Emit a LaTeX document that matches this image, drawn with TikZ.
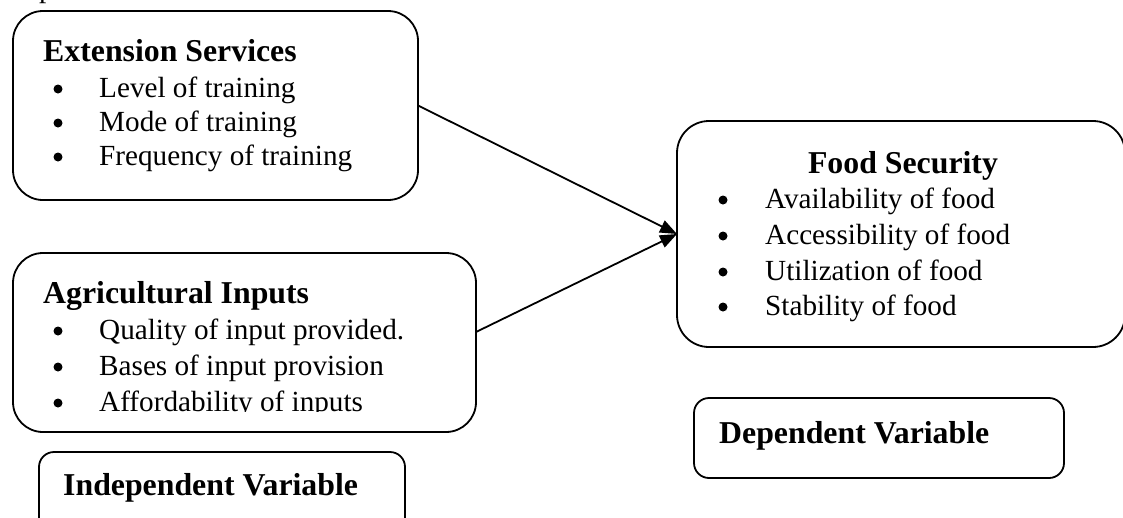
\documentclass[tikz,border=0pt]{standalone}
\usepackage{fontspec}
\setmainfont{Liberation Serif}
\usetikzlibrary{arrows.meta}
\begin{document}
\begin{tikzpicture}[x=1pt,y=-1pt,
  box/.style={draw=black, line width=1.8pt, rounded corners=30pt, inner sep=0pt, outer sep=0pt, anchor=north west},
  smallbox/.style={box, rounded corners=15pt},
  title/.style={font=\fontsize{31.8}{36}\selectfont\bfseries, inner sep=0pt, anchor=base west},
  item/.style={font=\fontsize{29.2}{34}\selectfont, inner sep=0pt, anchor=base west},
  bul/.style={circle, fill=black, draw=none, inner sep=0pt, minimum size=9pt},
  conn/.style={line width=1.8pt, -{Triangle[length=17pt,width=13pt]}}
]
\useasboundingbox (0,0) rectangle (1123,517);
\clip (0,0) rectangle (1123,517);

% fragment of text above
\node[item] (frag) at (39,-2.5) {p};

% Extension Services
\node[box, minimum width=405pt, minimum height=189pt] (ext) at (13,11) {};
\node[title] (extt) at (43,61) {Extension Services};
\node[bul] (eb1) at (58,89) {};
\node[item] (ei1) at (99,97) {Level of training};
\node[bul] (eb2) at (58,123) {};
\node[item] (ei2) at (99,131) {Mode of training};
\node[bul] (eb3) at (58,157) {};
\node[item] (ei3) at (99,165) {Frequency of training};

% Agricultural Inputs
\node[box, minimum width=463pt, minimum height=179pt] (agr) at (13,253) {};
\node[title] (agrt) at (43,303) {Agricultural Inputs};
\node[bul] (ab1) at (58,331) {};
\node[item] (ai1) at (99,339) {Quality of input provided.};
\node[bul] (ab2) at (58,367) {};
\node[item] (ai2) at (99,375) {Bases of input provision};
\begin{scope}
  \clip (0,0) rectangle (1123,411.5);
  \node[bul] (ab3) at (58,403) {};
  \node[item] (ai3) at (99,411) {Affordability of inputs};
\end{scope}

% Independent Variable
\node[smallbox, minimum width=366pt, minimum height=90pt] (ind) at (39,452) {};
\node[title] (indt) at (63,495) {Independent Variable};

% Food Security
\node[box, rounded corners=32pt, minimum width=448pt, minimum height=226pt] (food) at (677,121) {};
\node[title, anchor=base] (foodt) at (903,173) {Food Security};
\node[bul] (fb1) at (723,200) {};
\node[item] (fi1) at (765,208) {Availability of food};
\node[bul] (fb2) at (723,236) {};
\node[item] (fi2) at (765,244) {Accessibility of food};
\node[bul] (fb3) at (723,272) {};
\node[item] (fi3) at (765,280) {Utilization of food};
\node[bul] (fb4) at (723,307) {};
\node[item] (fi4) at (765,315) {Stability of food};

% Dependent Variable
\node[smallbox, minimum width=370pt, minimum height=80pt] (dep) at (694,398) {};
\node[title] (dept) at (719,443) {Dependent Variable};

% connectors
\coordinate (agrout) at (476,332);
\draw[conn] (ext.east) -- (food.west);
\draw[conn] (agrout) -- (food.west);
\end{tikzpicture}
\end{document}
